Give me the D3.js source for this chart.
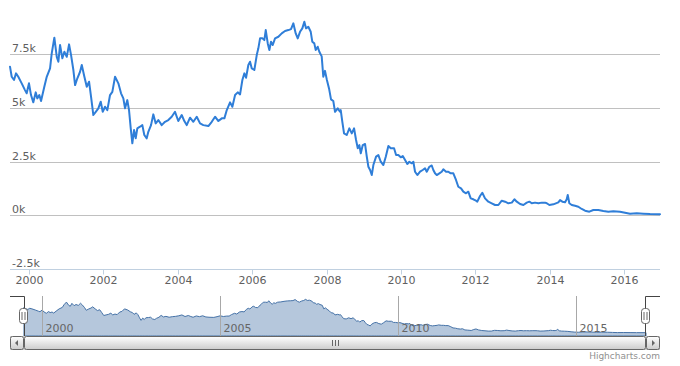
<!DOCTYPE html>
<html><head><meta charset="utf-8">
<script src="https://cdn.jsdelivr.net/npm/d3@7"></script>
<style>
html,body{margin:0;padding:0;background:#fff;}
svg{display:block;font-family:"DejaVu Sans",Verdana,Arial,sans-serif;}
</style></head>
<body><svg id="c" width="680" height="366"></svg>
<script>
// decimal-year dates and values
const years = [
1999.489,1999.535,1999.597,1999.651,1999.712,1999.804,1999.892,1999.938,2000.000,2000.054,
2000.116,2000.180,2000.223,2000.277,2000.323,2000.411,2000.476,2000.565,2000.610,2000.680,
2000.745,2000.788,2000.833,2000.895,2000.949,2001.013,2001.075,2001.129,2001.191,2001.237,
2001.298,2001.371,2001.417,2001.487,2001.551,2001.613,2001.667,2001.728,2001.793,2001.863,
2001.927,2001.981,2002.043,2002.105,2002.177,2002.239,2002.312,2002.401,2002.473,2002.535,
2002.581,2002.642,2002.688,2002.734,2002.777,2002.823,2002.868,2002.911,2002.984,2003.046,
2003.099,2003.164,2003.207,2003.280,2003.341,2003.406,2003.476,2003.567,2003.656,2003.745,
2003.836,2003.925,2004.013,2004.105,2004.175,2004.239,2004.328,2004.417,2004.508,2004.597,
2004.685,2004.820,2004.911,2005.000,2005.089,2005.180,2005.250,2005.315,2005.403,2005.465,
2005.538,2005.610,2005.672,2005.734,2005.788,2005.833,2005.895,2005.941,2005.987,2006.056,
2006.121,2006.164,2006.210,2006.272,2006.325,2006.363,2006.417,2006.460,2006.505,2006.551,
2006.613,2006.702,2006.793,2006.882,2006.970,2007.043,2007.105,2007.169,2007.223,2007.285,
2007.347,2007.401,2007.446,2007.508,2007.573,2007.616,2007.669,2007.707,2007.761,2007.804,
2007.868,2007.911,2007.957,2008.003,2008.065,2008.118,2008.180,2008.226,2008.298,2008.360,
2008.379,2008.422,2008.468,2008.540,2008.610,2008.675,2008.737,2008.790,2008.836,2008.879,
2008.917,2008.970,2009.032,2009.078,2009.121,2009.167,2009.212,2009.255,2009.328,2009.390,
2009.454,2009.524,2009.589,2009.659,2009.723,2009.812,2009.866,2009.927,2009.992,2010.046,
2010.108,2010.169,2010.223,2010.288,2010.331,2010.376,2010.438,2010.511,2010.583,2010.645,
2010.691,2010.761,2010.825,2010.868,2010.914,2010.960,2011.030,2011.094,2011.137,2011.210,
2011.272,2011.336,2011.406,2011.478,2011.540,2011.613,2011.675,2011.747,2011.809,2011.874,
2011.944,2012.016,2012.051,2012.124,2012.185,2012.258,2012.347,2012.438,2012.527,2012.616,
2012.707,2012.796,2012.884,2012.976,2013.046,2013.110,2013.199,2013.288,2013.379,2013.449,
2013.513,2013.602,2013.691,2013.782,2013.871,2013.917,2013.987,2014.094,2014.228,2014.274,
2014.336,2014.409,2014.454,2014.481,2014.524,2014.589,2014.677,2014.766,2014.857,2014.946,
2015.062,2015.169,2015.304,2015.438,2015.573,2015.707,2015.887,2016.022,2016.156,2016.336,
2016.513,2016.694,2016.960];
const values = [
6920,6450,6300,6610,6450,6145,5830,5680,6145,5600,
5260,5725,5445,5600,5320,5985,6450,6840,7540,8270,
7380,7150,7930,7310,7615,7380,7960,7460,6765,6065,
6380,6685,7000,6450,5985,6220,5520,4670,4820,4980,
5290,4820,5055,4900,5600,5750,6450,6145,5680,5445,
4980,5365,4900,4050,3350,3970,3585,4050,4125,4200,
3740,3585,3890,4200,4700,4280,4435,4200,4355,4435,
4590,4820,4390,4670,4390,4200,4545,4355,4590,4280,
4200,4155,4355,4590,4390,4515,4515,4900,5260,5055,
5600,5725,5630,6300,6610,6405,7000,7150,6840,6765,
7460,7775,8240,8240,8160,8625,8005,7695,8080,7930,
8240,8315,8470,8580,8625,8670,8940,8470,8240,8545,
8705,9010,8705,8780,8545,8080,8005,7695,7850,7615,
7400,6450,6725,6340,5910,5400,5320,4820,4980,4820,
4900,4355,3815,3740,4050,3815,4050,3505,3120,3270,
2885,3270,3320,2730,2260,2110,1875,2340,2730,2805,
2495,2340,2730,3225,3120,3120,2805,2805,2700,2760,
2575,2390,2495,2420,2495,2030,1875,2030,2110,2190,
2030,2260,2320,2110,1955,1875,1955,2030,2140,2030,
2030,1955,1955,1645,1330,1255,1100,1025,1100,790,
745,680,635,900,1050,790,635,560,480,480,
680,635,560,590,745,635,525,480,590,635,
560,590,560,590,590,560,480,510,605,710,
635,605,745,945,560,480,445,400,295,215,
170,245,245,200,170,185,170,120,75,95,
75,60,55];
const yTicks = [-2500, 0, 2500, 5000, 7500];
const yTickLabels = ["-2.5k","0k","2.5k","5k","7.5k"];
const mainTickYears = [2000,2002,2004,2006,2008,2010,2012,2014,2016];
const navTickYears = [2000,2005,2010,2015];

function toDate(y){const yr=Math.floor(y);const s=Date.UTC(yr,0,1),e=Date.UTC(yr+1,0,1);return new Date(s+(y-yr)*(e-s));}
const data = years.map((y,i)=>({d:toDate(y), v:values[i]}));

const svg = d3.select("#c");
const L=10, R=660, T=10, B=269;
const x = d3.scaleUtc().domain(d3.extent(data,d=>d.d)).range([L,R]);
const y = d3.scaleLinear().domain([-2500, 9560]).range([B,T]);

// grid + y labels
const gy = svg.append("g");
yTicks.forEach((t,i)=>{
  const yy = Math.round(y(t))+0.5;
  gy.append("line").attr("x1",L).attr("x2",R).attr("y1",yy).attr("y2",yy)
    .attr("stroke","#C0C0C0").attr("stroke-width",1);
  gy.append("text").attr("x",L+2).attr("y",yy-3).attr("font-size",11)
    .attr("fill","#606060").text(yTickLabels[i]);
});

// x axis
const xAxisY = Math.round(y(-2500))+0.5;
svg.append("line").attr("x1",L).attr("x2",R).attr("y1",xAxisY).attr("y2",xAxisY)
  .attr("stroke","#C0D0E0").attr("stroke-width",1);
mainTickYears.forEach(yr=>{
  const xx = Math.round(x(new Date(Date.UTC(yr,0,1))))+0.5;
  svg.append("line").attr("x1",xx).attr("x2",xx).attr("y1",xAxisY).attr("y2",xAxisY+5)
    .attr("stroke","#C0D0E0");
  svg.append("text").attr("x",xx).attr("y",284).attr("text-anchor","middle")
    .attr("font-size",11).attr("fill","#606060").text(yr);
});

// main line
svg.append("path").datum(data)
  .attr("d", d3.line().x(d=>x(d.d)).y(d=>y(d.v)))
  .attr("fill","none").attr("stroke","#2f7ed8").attr("stroke-width",2)
  .attr("stroke-linejoin","round").attr("stroke-linecap","round");

// navigator
const NL=24, NR=646, NT=296, NB=336;
const nx = d3.scaleUtc().domain(d3.extent(data,d=>d.d)).range([NL,NR]);
const ext = d3.extent(values); const pad=(ext[1]-ext[0])*0.1;
const ny = d3.scaleLinear().domain([ext[0]-pad, ext[1]+pad]).range([NB,NT]);
svg.append("path").datum(data)
  .attr("d", d3.area().x(d=>nx(d.d)).y0(NB).y1(d=>ny(d.v)))
  .attr("fill","#4572A7").attr("fill-opacity",0.4)
  .attr("stroke","#4572A7").attr("stroke-width",1);
navTickYears.forEach(yr=>{
  const xx = Math.round(nx(new Date(Date.UTC(yr,0,1))))+0.5;
  svg.append("line").attr("x1",xx).attr("x2",xx).attr("y1",NT).attr("y2",NB)
    .attr("stroke","#a8a8a8");
  svg.append("text").attr("x",xx+3).attr("y",332).attr("font-size",11)
    .attr("fill","#666").text(yr);
});
// outline
svg.append("path").attr("d",`M${L},${NT+0.5}H${NL+0.5}V${NB}M${NR-0.5},${NB}V${NT+0.5}H${R}`)
  .attr("fill","none").attr("stroke","#444").attr("stroke-width",1);

// scrollbar
const defs = svg.append("defs");
const g1 = defs.append("linearGradient").attr("id","btn").attr("x1",0).attr("y1",0).attr("x2",0).attr("y2",1);
g1.append("stop").attr("offset",0).attr("stop-color","#FFF");
g1.append("stop").attr("offset",1).attr("stop-color","#CCC");
const g2 = defs.append("linearGradient").attr("id","trk").attr("x1",0).attr("y1",0).attr("x2",0).attr("y2",1);
g2.append("stop").attr("offset",0).attr("stop-color","#EEE");
g2.append("stop").attr("offset",1).attr("stop-color","#FFF");
const SY=336.5, SH=13;
svg.append("rect").attr("x",L+0.5).attr("y",SY).attr("width",R-L-1).attr("height",SH)
  .attr("fill","url(#trk)").attr("stroke","#CCC");
svg.append("rect").attr("x",NL+0.5).attr("y",SY).attr("width",NR-NL-1).attr("height",SH).attr("rx",2)
  .attr("fill","url(#btn)").attr("stroke","#666");
const cx = Math.round((NL+NR)/2)+0.5;
[-3,0,3].forEach(o=>svg.append("line").attr("x1",cx+o).attr("x2",cx+o).attr("y1",SY+3.5).attr("y2",SY+SH-3.5).attr("stroke","#666"));
// buttons
svg.append("rect").attr("x",L+0.5).attr("y",SY).attr("width",NL-L-1).attr("height",SH).attr("rx",2)
  .attr("fill","url(#btn)").attr("stroke","#666");
svg.append("rect").attr("x",NR+0.5).attr("y",SY).attr("width",R-NR-1).attr("height",SH).attr("rx",2)
  .attr("fill","url(#btn)").attr("stroke","#666");
const my = SY+SH/2;
svg.append("path").attr("d",`M${L+8},${my-3}L${L+8},${my+3}L${L+5},${my}Z`).attr("fill","#666");
svg.append("path").attr("d",`M${NR+6},${my-3}L${NR+6},${my+3}L${NR+9},${my}Z`).attr("fill","#666");

// handles
[NL, NR].forEach(hx=>{
  const hxx = Math.round(hx)-0.5;
  svg.append("rect").attr("x",hxx-4).attr("y",308.5).attr("width",8).attr("height",15).attr("rx",3)
    .attr("fill","#FFF").attr("stroke","#666");
  [-1.5,1.5].forEach(o=>svg.append("line").attr("x1",hxx+o).attr("x2",hxx+o).attr("y1",312).attr("y2",320).attr("stroke","#666"));
});

// credits
svg.append("text").attr("x",R).attr("y",359).attr("text-anchor","end")
  .attr("font-size",9).attr("fill","#909090").text("Highcharts.com");
</script></body></html>
